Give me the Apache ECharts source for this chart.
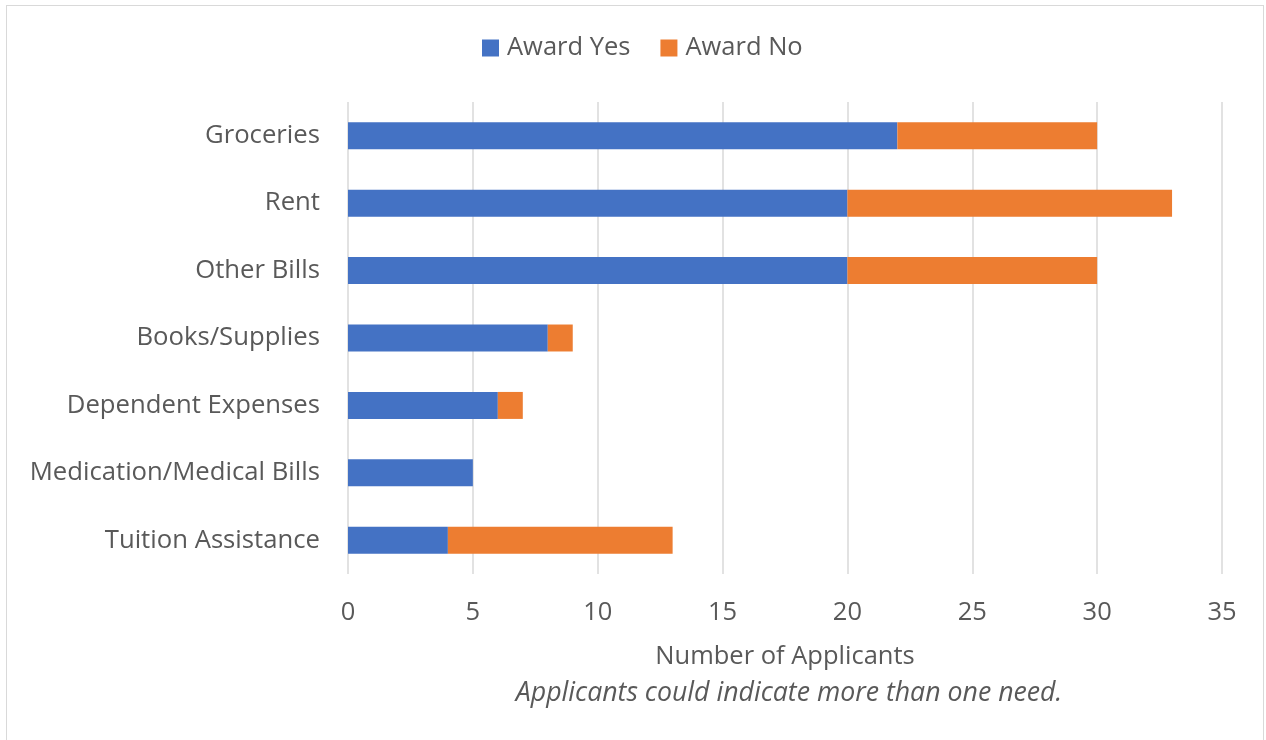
<!DOCTYPE html>
<html>
<head>
<meta charset="utf-8">
<script src="https://cdn.jsdelivr.net/npm/echarts@6/dist/echarts.min.js"></script>
<style>
  html, body { margin: 0; padding: 0; background: #fff; }
  #frame { position: absolute; left: 6px; top: 5px; width: 1258px; height: 740px; border: 1.5px solid #d9d9d9; box-sizing: border-box; }
  #chart { position: absolute; left: 0; top: 0; width: 1266px; height: 740px; }
</style>
</head>
<body>
<div id="frame"></div>
<div id="chart"></div>
<script>
// Needs listed top to bottom
const categories = ['Groceries', 'Rent', 'Other Bills', 'Books/Supplies', 'Dependent Expenses', 'Medication/Medical Bills', 'Tuition Assistance'];
const awardYes = [22, 20, 20, 8, 6, 5, 4];
const awardNo = [8, 13, 10, 1, 1, 0, 9];
const xTicks = { min: 0, max: 35, interval: 5 };

const FONT = '"Open Sans", sans-serif';
const TEXT = '#595959';

const chart = echarts.init(document.getElementById('chart'), null, { renderer: 'canvas' });
chart.setOption({
  animation: false,
  textStyle: { fontFamily: FONT, color: TEXT },
  legend: {
    top: 30,
    left: 477,
    itemWidth: 17,
    itemHeight: 17,
    itemGap: 30,
    icon: 'rect',
    textStyle: { fontFamily: FONT, fontSize: 25.5, color: TEXT, padding: [0, 0, 0, 3] },
    data: ['Award Yes', 'Award No']
  },
  title: {
    text: 'Applicants could indicate more than one need.',
    left: 784,
    top: 675,
    textAlign: 'center',
    textStyle: { fontFamily: FONT, fontSize: 26.7, fontStyle: 'italic', fontWeight: 'normal', color: TEXT }
  },
  grid: { left: 348, right: 44, top: 102, bottom: 166, containLabel: false },
  xAxis: {
    type: 'value',
    min: xTicks.min,
    max: xTicks.max,
    interval: xTicks.interval,
    name: 'Number of Applicants',
    nameLocation: 'middle',
    nameGap: 70,
    nameTextStyle: { fontFamily: FONT, fontSize: 25.5, color: TEXT },
    axisLine: { show: false },
    axisTick: { show: false },
    axisLabel: { fontFamily: FONT, fontSize: 25.5, color: TEXT, margin: 26 },
    splitLine: { show: true, lineStyle: { color: '#d9d9d9', width: 1.5 } }
  },
  yAxis: {
    type: 'category',
    inverse: true,
    data: categories,
    axisLine: { show: false },
    axisTick: { show: false },
    axisLabel: { fontFamily: FONT, fontSize: 25.7, color: TEXT, margin: 28 }
  },
  series: [
    {
      name: 'Award Yes',
      type: 'bar',
      stack: 'total',
      barCategoryGap: '60%',
      itemStyle: { color: '#4472C4' },
      data: awardYes
    },
    {
      name: 'Award No',
      type: 'bar',
      stack: 'total',
      barCategoryGap: '60%',
      itemStyle: { color: '#ED7D31' },
      data: awardNo
    }
  ]
});
</script>
</body>
</html>
